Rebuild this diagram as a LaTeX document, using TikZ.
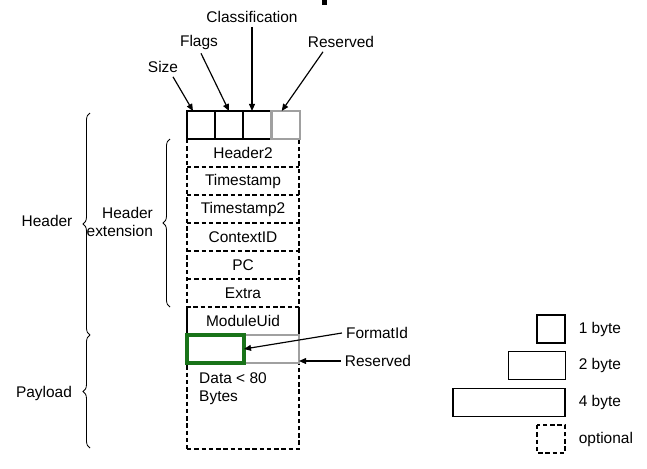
\documentclass[tikz,border=0pt]{standalone}
\usepackage{fontspec}
\setmainfont{Liberation Sans}
\usepackage{xcolor}
\usepackage{tikz}
\usetikzlibrary{arrows.meta, positioning, calc, decorations.pathreplacing}

\definecolor{resgray}{RGB}{160,160,160}
\definecolor{fidgreen}{RGB}{25,115,25}

\begin{document}
\begin{tikzpicture}[
  x=0.03cm, y=-0.03cm,
  font=\fontsize{13.2}{15.5}\selectfont,
  cell/.style={draw, line width=1.1pt, inner sep=0pt, outer sep=0pt, minimum width=0.84cm, minimum height=0.84cm},
  rescell/.style={cell, draw=resgray, line width=2.2pt},
  row/.style={inner sep=0pt, outer sep=0pt, minimum width=3.36cm, minimum height=0.84cm},
  optline/.style={line width=1pt, dash pattern=on 3.8pt off 2.4pt},
  arr/.style={-{Triangle[length=6pt, width=5pt]}, line width=1pt},
  brc/.style={decorate, decoration={brace, amplitude=6pt}, line width=0.7pt}
]
\useasboundingbox (0,0) rectangle (647,468);

% --- Header extension (optional rows) ---
\node[row] (h2) at (243,153) {Header2};
\node[row] (ts) at (243,181) {Timestamp};
\node[row] (t2) at (243,209) {Timestamp2};
\node[row] (ci) at (243,237) {ContextID};
\node[row] (pc) at (243,265) {PC};
\node[row] (ex) at (243,293) {Extra};
\draw[optline] (h2.north west) rectangle (ex.south east);
\foreach \r in {h2,ts,t2,ci,pc}
  \draw[optline] (\r.south west) -- (\r.south east);

% --- ModuleUid ---
\node[row] (mu) at (243,321) {ModuleUid};
\draw[line width=1.1pt] (mu.north west) -- (mu.south west) (mu.north east) -- (mu.south east);

% --- Payload ---
\node[row, draw, optline, minimum height=2.58cm] (pay) at (243,406) {};
\node[anchor=north west, align=left, inner sep=0pt, font=\fontsize{13.2}{16}\selectfont] (dat) at (199,372) {Data < 80\\Bytes};
\node[rescell, minimum width=1.65cm] (fr) at (271.5,349) {};
\node[cell, draw=fidgreen, line width=2.6pt, minimum width=1.71cm] (fid) at (215.5,349) {};

% --- Fixed header fields ---
\node[cell] (sz) at (201,125) {};
\node[cell] (fl) at (229,125) {};
\node[cell] (cl) at (257,125) {};
\node[rescell, minimum width=0.855cm] (rs) at (285.7,125) {};

% --- Field labels ---
\node (lsize) at (163,67) {Size};
\node (lflags) at (199,42) {Flags};
\node (lclass) at (252,17) {Classification};
\node (lres) at (341,42) {Reserved};
\node (lfid) at (377,333) {FormatId};
\node (lres2) at (378,361) {Reserved};

\draw[arr] ([shift={(10,0)}]lsize.south) -- ([shift={(-8,0)}]sz.north);
\draw[arr] ([shift={(2,0)}]lflags.south) -- (fl.north);
\draw[arr] (lclass.south) -- (lclass.south |- cl.north);
\draw[arr] ([shift={(-18,0)}]lres.south) -- ([shift={(-4,0)}]rs.north);
\draw[arr] (lfid.west) -- (fid.east);
\draw[arr] (lres2.west) -- (lres2.west -| fr.east);

% --- Braces ---
\draw[brc] (90,448) -- (90,335);
\draw[brc] (90,335) -- (90,113);
\draw[brc] (170,307) -- (170,139);
\node (lhead) at (47,221) {Header};
\node (lpay) at (44,393) {Payload};
\node[anchor=east, align=right] (lhext) at (157,222) {Header\\extension};

% --- Legend ---
\node[cell] (b1) at (551,329) {};
\node[cell, minimum width=1.71cm] (b2) at (537,365.5) {};
\node[cell, minimum width=3.36cm] (b4) at (509,402.5) {};
\node[cell, draw=none] (bo) at (551,439) {};
\draw[optline] (bo.north west) rectangle (bo.south east);
\node[right=0.29cm of b1] (l1) {1 byte};
\node[right=0.29cm of b2.east -| b1.east] (l2) {2 byte};
\node[right=0.29cm of b4.east -| b1.east] (l4) {4 byte};
\node[right=0.29cm of bo] (lo) {optional};

\fill (322,0) rectangle (327,5);
\end{tikzpicture}
\end{document}
